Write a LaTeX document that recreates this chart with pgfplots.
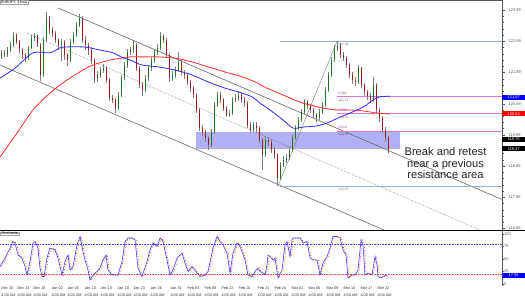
\documentclass[border=0pt]{standalone}
\usepackage{fontspec}
\setmainfont{Liberation Sans}
\usepackage{pgfplots}
\usepackage{pgfplotstable}
\pgfplotsset{compat=1.18}
\definecolor{bull}{RGB}{25,115,25}
\definecolor{bear}{RGB}{150,25,25}
\definecolor{wick}{RGB}{125,125,125}
\definecolor{mablue}{RGB}{45,45,240}
\definecolor{mared}{RGB}{255,45,45}
\definecolor{fibblue}{RGB}{150,180,215}
\definecolor{fibpink}{RGB}{215,120,215}
\definecolor{fibtxt}{RGB}{140,70,160}
\definecolor{zone}{RGB}{168,168,242}
\definecolor{chan}{RGB}{105,105,105}
\definecolor{axgrey}{RGB}{85,85,85}
\newcommand{\tf}{\fontsize{4}{4.8}\selectfont}

\pgfplotstableread{
x o h l c
1.5 122.40 122.62 122.33 122.51
4.5 122.51 122.60 122.38 122.45
7.5 122.45 122.70 122.40 122.61
10.5 122.61 122.86 122.55 122.77
13.5 122.77 123.20 122.72 123.09
16.5 123.09 123.15 122.80 122.87
19.5 122.87 122.93 122.52 122.61
22.5 122.61 122.68 122.33 122.45
25.5 122.45 122.52 122.22 122.36
28.5 122.36 122.75 122.30 122.68
31.5 122.68 123.10 122.63 122.99
34.5 122.99 123.16 122.90 123.06
37.5 123.06 123.12 122.70 122.77
40.5 122.77 122.85 121.62 121.81
43.5 121.81 123.02 121.75 122.93
46.5 122.93 123.83 122.88 123.64
49.5 123.64 123.70 123.12 123.25
52.5 123.25 123.35 123.02 123.16
55.5 123.16 123.22 122.82 122.93
58.5 122.93 123.00 122.62 122.77
61.5 122.77 122.98 122.25 122.87
64.5 122.87 122.93 122.30 122.45
67.5 122.45 122.52 122.10 122.29
70.5 122.29 122.95 122.22 122.87
73.5 122.87 123.18 122.80 123.09
76.5 123.09 123.50 123.02 123.41
79.5 123.41 123.76 123.35 123.64
82.5 123.64 123.70 122.85 122.93
85.5 122.93 123.05 122.62 122.77
88.5 122.77 122.85 122.45 122.61
91.5 122.61 122.70 122.15 122.29
94.5 122.29 122.35 121.55 121.71
97.5 121.71 121.95 121.58 121.81
100.5 121.81 122.08 121.72 121.97
103.5 121.97 122.15 121.88 122.03
106.5 122.03 122.10 121.55 121.65
109.5 121.65 121.72 120.98 121.07
112.5 121.07 121.18 120.90 121.01
115.5 121.01 121.08 120.60 120.75
118.5 120.75 121.25 120.68 121.17
121.5 121.17 121.80 121.10 121.71
124.5 121.71 122.22 121.65 122.13
127.5 122.13 122.65 122.05 122.55
130.5 122.55 122.72 122.45 122.61
133.5 122.61 122.92 122.52 122.77
136.5 122.77 122.85 121.95 122.03
139.5 122.03 122.10 121.38 121.49
142.5 121.49 121.58 121.15 121.33
145.5 121.33 121.80 121.25 121.71
148.5 121.71 122.12 121.62 122.03
151.5 122.03 122.40 121.95 122.29
154.5 122.29 122.63 122.20 122.55
157.5 122.55 122.80 122.45 122.68
160.5 122.68 123.20 122.60 123.06
163.5 123.06 123.12 122.85 122.93
166.5 122.93 123.00 122.35 122.45
169.5 122.45 122.52 121.60 121.71
172.5 121.71 121.95 121.62 121.81
175.5 121.81 122.08 121.72 121.97
178.5 121.97 122.55 121.90 122.23
181.5 122.23 122.30 121.80 121.91
184.5 121.91 121.98 121.68 121.81
187.5 121.81 121.88 121.48 121.59
190.5 121.59 121.65 121.28 121.39
193.5 121.39 121.45 121.08 121.17
196.5 121.17 121.22 120.60 120.69
199.5 120.69 120.75 120.02 120.11
202.5 120.11 120.20 119.85 119.98
205.5 119.98 120.05 119.65 119.79
208.5 119.79 119.85 119.40 119.56
211.5 119.56 120.08 119.50 119.98
214.5 119.98 120.95 119.92 120.85
217.5 120.85 121.28 120.78 121.17
220.5 121.17 121.25 120.92 121.01
223.5 121.01 121.08 120.65 120.75
226.5 120.75 120.82 120.45 120.53
229.5 120.53 120.70 120.45 120.59
232.5 120.59 121.10 120.52 121.01
235.5 121.01 121.20 120.95 121.07
238.5 121.07 121.30 120.98 121.17
241.5 121.17 121.25 120.92 121.01
244.5 121.01 121.10 120.80 120.91
247.5 120.91 120.98 120.10 120.21
250.5 120.21 120.30 119.95 120.05
253.5 120.05 120.32 119.98 120.21
256.5 120.21 120.30 120.00 120.11
259.5 120.11 120.18 119.62 119.73
262.5 119.73 119.80 118.77 119.25
265.5 119.25 119.85 119.18 119.73
268.5 119.73 119.82 119.55 119.66
271.5 119.66 119.72 119.30 119.41
274.5 119.41 119.50 119.12 119.25
277.5 119.25 119.30 118.25 118.51
280.5 118.51 119.02 118.45 118.93
283.5 118.93 119.20 118.85 119.09
286.5 119.09 119.28 119.00 119.15
289.5 119.15 119.52 119.08 119.41
292.5 119.41 119.88 119.35 119.79
295.5 119.79 120.20 119.72 120.11
298.5 120.11 120.46 120.05 120.37
301.5 120.37 120.72 120.30 120.62
304.5 120.62 121.05 120.55 120.94
307.5 120.94 121.02 120.72 120.81
310.5 120.81 120.88 120.60 120.69
313.5 120.69 120.75 120.42 120.53
316.5 120.53 120.60 120.30 120.43
319.5 120.43 120.72 120.36 120.62
322.5 120.62 120.95 120.55 120.85
325.5 120.85 121.42 120.78 121.33
328.5 121.33 121.90 121.26 121.81
331.5 121.81 122.38 121.74 122.29
334.5 122.29 122.78 122.22 122.68
337.5 122.68 122.89 122.58 122.77
340.5 122.77 122.85 122.35 122.45
343.5 122.45 122.55 122.25 122.36
346.5 122.36 122.42 122.02 122.13
349.5 122.13 122.20 121.70 121.81
352.5 121.81 121.90 121.52 121.65
355.5 121.65 121.75 121.45 121.59
358.5 121.59 122.12 121.52 122.03
361.5 122.03 122.08 121.38 121.49
364.5 121.49 121.55 121.15 121.26
367.5 121.26 121.32 121.02 121.14
370.5 121.14 121.22 120.90 121.01
373.5 121.01 121.75 120.95 121.49
376.5 121.49 121.55 120.58 120.69
379.5 120.69 120.75 120.32 120.43
382.5 120.43 120.50 119.95 120.05
385.5 120.05 120.15 119.65 119.79
388.5 119.79 119.85 119.30 119.37
}\candles

\pgfplotstableread{
x p
0 121.71
15 122.03
33 122.52
50 122.52
60 122.68
67 122.71
83 122.71
90 122.68
100 122.61
113 122.52
123 122.36
130 122.29
142 122.13
158 122.07
175 121.97
192 121.81
208 121.59
225 121.39
238 121.27
252 121.11
260 120.91
270 120.69
283 120.37
293 120.11
303 120.14
317 120.18
327 120.27
340 120.46
350 120.59
363 120.78
373 121.01
380 121.11
390 121.13
}\mablue

\pgfplotstableread{
x p
0 119.18
17 119.95
33 120.69
50 121.23
67 121.65
83 121.97
93 122.13
110 122.29
130 122.39
142 122.39
158 122.39
175 122.35
192 122.23
208 122.07
225 121.91
242 121.75
255 121.59
267 121.39
283 121.17
300 120.94
310 120.85
323 120.75
337 120.69
350 120.69
363 120.66
377 120.59
390 120.56
}\mared

\pgfplotstableread{
x v
0 35
5 52
10 72
13 85
15 82
18 58
22 52
25 35
27 18
30 45
33 82
35 85
38 72
40 32
42 15
44 15
47 52
50 72
55 68
58 52
62 18
65 45
68 58
70 28
73 35
77 78
80 95
83 65
85 48
88 28
90 8
93 18
97 25
100 32
103 48
106 58
108 28
112 18
115 18
118 18
122 45
125 85
128 92
132 92
135 88
138 32
142 15
147 45
150 68
153 82
157 75
160 92
163 85
167 48
170 18
173 28
177 52
182 62
185 42
188 25
192 35
197 22
200 15
205 18
208 25
213 72
217 95
220 85
223 78
227 62
230 22
233 62
237 82
240 75
245 48
248 18
252 15
255 25
258 32
260 25
263 22
265 18
267 38
268 58
270 55
273 48
275 52
278 12
282 28
285 78
287 85
290 55
292 88
293 92
297 92
300 92
303 82
307 85
310 52
313 48
317 48
320 18
323 42
327 55
330 72
333 95
337 95
340 92
343 68
346 58
348 12
352 18
355 18
358 28
361 88
363 78
365 18
368 22
372 18
375 55
377 38
378 15
380 12
383 15
387 18
}\stoch

\begin{document}
\begin{tikzpicture}
\useasboundingbox (0,0) rectangle (525bp,-298bp);
\fill[white] (0,0) rectangle (525bp,-298bp);

%================ main price panel =================
\begin{axis}[
  at={(0,0)}, anchor=north west,
  width=502bp, height=230bp, scale only axis,
  xmin=0, xmax=502, ymin=116.842, ymax=124.2137,
  axis x line*=top, axis y line*=right,
  axis line style={axgrey, line width=0.5bp},
  xtick=\empty,
  ytick={116.89,117.89,118.89,119.89,120.89,121.89,122.89,123.89},
  yticklabels={116.89,117.89,118.89,119.89,120.89,121.89,122.89,123.89},
  minor y tick num=4,
  tick align=outside,
  major tick length=2.5bp, minor tick length=1.5bp,
  tick style={axgrey, line width=0.4bp},
  yticklabel style={font=\tf, text=axgrey, anchor=west, xshift=3.5bp, inner sep=0.5bp},
  clip mode=individual,
]
% support / resistance zone
\addplot[fill=zone, draw=none, fill opacity=0.9, forget plot] coordinates {(196,119.44) (400,119.44) (400,119.98) (196,119.98)} -- cycle;

% channel lines
\addplot[chan, line width=0.6bp, forget plot] coordinates {(58,123.96) (502,117.82)};
\addplot[chan, line width=0.6bp, forget plot] coordinates {(0,122.13) (390,116.76)};
\addplot[chan, line width=0.5bp, densely dotted, forget plot] coordinates {(27,123.16) (490,116.70)};

% fibonacci
\addplot[fibblue, line width=0.8bp, forget plot] coordinates {(280,122.89) (502,122.89)};
\addplot[fibblue, line width=0.8bp, forget plot] coordinates {(280,118.25) (502,118.25)};
\addplot[fibpink, line width=0.6bp, forget plot] coordinates {(337,121.12) (502,121.12)};
\addplot[fibpink, line width=0.6bp, forget plot] coordinates {(337,120.57) (502,120.57)};
\addplot[fibpink, line width=0.6bp, forget plot] coordinates {(337,120.02) (502,120.02)};
\addplot[gray, line width=0.4bp, forget plot] coordinates {(278,118.25) (337,122.89)};

% wicks
\addplot[draw=none, mark=none, forget plot,
  error bars/.cd, y dir=both, y explicit, error mark=none,
  error bar style={draw=wick, line width=0.55bp}]
  table[x=x, y expr={(\thisrow{h}+\thisrow{l})/2}, y error expr={(\thisrow{h}-\thisrow{l})/2}] {\candles};
% bullish bodies
\addplot[draw=none, mark=none, forget plot,
  restrict expr to domain={\thisrow{c}-\thisrow{o}}{0:100},
  error bars/.cd, y dir=both, y explicit, error mark=none,
  error bar style={draw=bull, line width=1.8bp}]
  table[x=x, y expr={(\thisrow{o}+\thisrow{c})/2}, y error expr={abs(\thisrow{c}-\thisrow{o})/2}] {\candles};
% bearish bodies
\addplot[draw=none, mark=none, forget plot,
  restrict expr to domain={\thisrow{c}-\thisrow{o}}{-100:0},
  error bars/.cd, y dir=both, y explicit, error mark=none,
  error bar style={draw=bear, line width=1.8bp}]
  table[x=x, y expr={(\thisrow{o}+\thisrow{c})/2}, y error expr={abs(\thisrow{c}-\thisrow{o})/2}] {\candles};

% moving averages
\addplot[mared, line width=0.8bp, smooth, forget plot] table[x=x, y=p] {\mared};
\addplot[mablue, line width=0.8bp, smooth, forget plot] table[x=x, y=p] {\mablue};

% fib labels
\node[anchor=west, font=\fontsize{3.3}{3.5}\selectfont, text=fibblue!70!black, inner sep=0.3bp] at (axis cs:338,122.80) {122.89};
\node[anchor=west, font=\fontsize{3.3}{3.5}\selectfont, text=fibblue!70!black, inner sep=0.3bp] at (axis cs:338,118.14) {118.25};
\node[anchor=west, font=\fontsize{3.3}{3.5}\selectfont, text=fibtxt, inner sep=0.3bp] at (axis cs:338,121.23) {0.382};
\node[anchor=west, font=\fontsize{3.3}{3.5}\selectfont, text=fibtxt, inner sep=0.3bp] at (axis cs:338,121.01) {121.12};
\node[anchor=west, font=\fontsize{3.3}{3.5}\selectfont, text=fibtxt, inner sep=0.3bp] at (axis cs:338,120.68) {0.500};
\node[anchor=west, font=\fontsize{3.3}{3.5}\selectfont, text=fibtxt, inner sep=0.3bp] at (axis cs:338,120.46) {120.57};
\node[anchor=west, font=\fontsize{3.3}{3.5}\selectfont, text=fibtxt, inner sep=0.3bp] at (axis cs:338,120.13) {0.618};
\node[anchor=west, font=\fontsize{3.3}{3.5}\selectfont, text=fibtxt, inner sep=0.3bp] at (axis cs:338,119.91) {120.02};

% annotation
\node[align=center, font=\fontsize{11.2}{11.7}\selectfont, text=black!85] at (axis cs:445.5,118.98) {Break and retest\\near a previous\\resistance area};

% price boxes on the right scale
\node[anchor=west, fill=blue, text=white, font=\tf, inner sep=0.6bp, minimum width=23bp, minimum height=5bp] at (axis cs:502,121.09) {121.07};
\node[anchor=west, fill=red, text=white, font=\tf, inner sep=0.6bp, minimum width=23bp, minimum height=5bp] at (axis cs:502,120.56) {120.54};
\node[anchor=west, fill=black, text=white, font=\tf, inner sep=0.6bp, minimum width=23bp, minimum height=5bp] at (axis cs:502,119.74) {119.70};
\node[anchor=west, fill=black, text=white, font=\tf, inner sep=0.6bp, minimum width=23bp, minimum height=5bp] at (axis cs:502,119.45) {119.37};
\end{axis}

%================ stochastic panel =================
\begin{axis}[
  at={(0,-230bp)}, anchor=north west,
  width=502bp, height=56bp, scale only axis,
  xmin=0, xmax=502, ymin=-4, ymax=108,
  axis x line*=bottom, axis y line*=right,
  x axis line style={draw=none},
  y axis line style={axgrey, line width=0.5bp},
  ytick={0,25,50,75,100},
  yticklabels={0,25,50,75,100},
  tick align=outside,
  ytick style={axgrey, line width=0.4bp},
  major tick length=1.5bp,
  yticklabel style={font=\tf, text=axgrey, anchor=west, inner sep=0.5bp},
  xtick={1,17,33,51,67,84,100,117,133,150,170,187,204,221,238,257,274,291,308,326,343,360,377},
  xticklabels={{Dec 20\\4:00 AM},{Dec 23\\4:00 AM},{Dec 28\\4:00 AM},{Jan 02\\4:00 AM},{Jan 05\\4:00 AM},{Jan 10\\4:00 AM},{Jan 13\\4:00 AM},{Jan 18\\4:00 AM},{Jan 23\\4:00 AM},{Jan 26\\4:00 AM},{Jan 31\\4:00 AM},{Feb 03\\4:00 AM},{Feb 08\\4:00 AM},{Feb 13\\4:00 AM},{Feb 16\\4:00 AM},{Feb 21\\4:00 AM},{Feb 24\\4:00 AM},{Mar 01\\4:00 AM},{Mar 06\\4:00 AM},{Mar 09\\4:00 AM},{Mar 14\\4:00 AM},{Mar 17\\4:00 AM},{Mar 22\\4:00 AM}},
  xticklabel style={anchor=north west, font=\fontsize{3.8}{6.5}\selectfont, text=black!80, align=left, inner sep=0.3bp, yshift=1bp},
  xtick style={draw=none},
  clip mode=individual,
]
\addplot[blue!70, densely dotted, line width=0.6bp, forget plot] coordinates {(0,80) (502,80)};
\addplot[red!70, densely dotted, line width=0.6bp, forget plot] coordinates {(0,20) (502,20)};
\addplot[red!85, dotted, line width=0.7bp, forget plot] table[x expr={\thisrow{x}+1.2}, y=v] {\stoch};
\addplot[blue!75, line width=0.6bp, forget plot] table[x=x, y=v] {\stoch};
\node[anchor=west, fill=blue, text=white, font=\tf, inner sep=0.6bp, minimum width=23bp, minimum height=5bp] at (axis cs:502,17.91) {17.91};
\end{axis}

% separators and labels
\draw[black, line width=1bp] (0,-230bp) -- (525bp,-230bp);
\node[anchor=north west, draw=gray!70, fill=white, inner sep=0.4bp, font=\fontsize{3.5}{4}\selectfont] at (0.5bp,-0.5bp) {EUR/JPY, 4-hour};
\node[anchor=north west, draw=gray!70, fill=white, inner sep=0.4bp, font=\fontsize{3.8}{4.3}\selectfont] at (0.5bp,-231.5bp) {Stochastic};
\end{tikzpicture}
\end{document}
